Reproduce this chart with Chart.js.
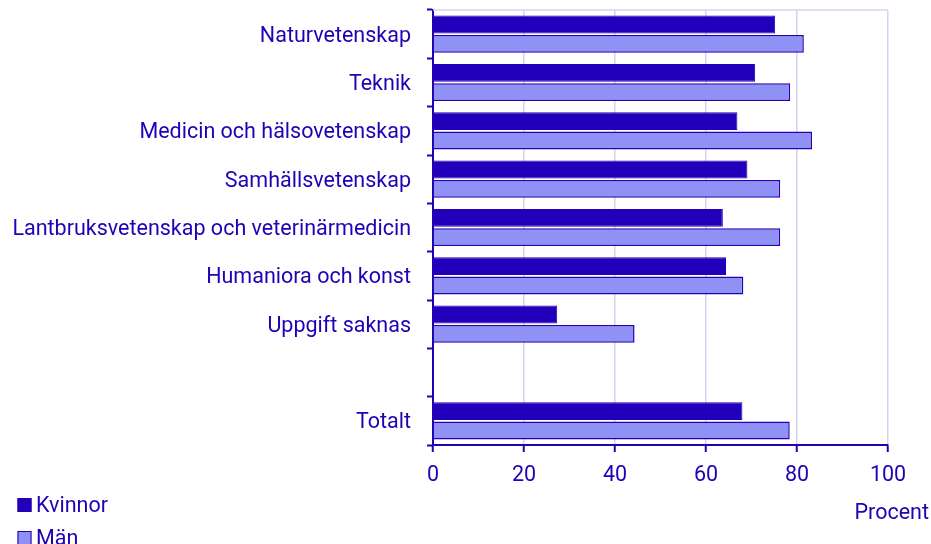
<!DOCTYPE html>
<html>
<head>
<meta charset="utf-8">
<script src="https://cdn.jsdelivr.net/npm/chart.js@4"></script>
<style>
  html, body { margin: 0; padding: 0; background: #fff; }
  #wrap { width: 931px; height: 544px; position: relative; }
</style>
</head>
<body>
<div id="wrap"><canvas id="eduChart"></canvas></div>
<script>
// Andel (procent) per utbildningsområde, kvinnor och män
const categories = [
  "Naturvetenskap",
  "Teknik",
  "Medicin och hälsovetenskap",
  "Samhällsvetenskap",
  "Lantbruksvetenskap och veterinärmedicin",
  "Humaniora och konst",
  "Uppgift saknas",
  "",
  "Totalt",
];
const kvinnor = [75.2, 70.8, 66.9, 69.1, 63.7, 64.4, 27.3, null, 68.0];
const man = [81.5, 78.5, 83.3, 76.3, 76.3, 68.2, 44.3, null, 78.4];
const xTicks = [0, 20, 40, 60, 80, 100];

const ink = "#2200b4";
const gridCol = "#d4d4ee";
const fontFam = "Roboto, 'Noto Sans', sans-serif";
const fontSize = 21.5;

// legend + axis unit drawn on the canvas
const extras = {
  id: "extras",
  afterDraw(chart) {
    const { ctx, chartArea } = chart;
    ctx.save();
    // top frame line
    ctx.strokeStyle = gridCol;
    ctx.lineWidth = 1.5;
    ctx.beginPath();
    ctx.moveTo(chartArea.left, chartArea.top);
    ctx.lineTo(chartArea.right, chartArea.top);
    ctx.stroke();

    ctx.font = fontSize + "px " + fontFam;
    ctx.fillStyle = ink;
    ctx.textBaseline = "middle";
    ctx.textAlign = "right";
    ctx.fillText("Procent", 929, 514);

    ctx.textAlign = "left";
    chart.data.datasets.forEach((ds, i) => {
      const y = 505 + i * 33;
      ctx.fillStyle = ds.backgroundColor;
      ctx.fillRect(17.5, y - 7, 14, 14);
      ctx.strokeStyle = ink;
      ctx.lineWidth = 1;
      ctx.strokeRect(18, y - 6.5, 13, 13);
      ctx.fillStyle = ink;
      ctx.fillText(ds.label, 36, y + 2);
    });
    ctx.restore();
  },
};

new Chart(document.getElementById("eduChart"), {
  type: "bar",
  data: {
    labels: categories,
    datasets: [
      {
        label: "Kvinnor",
        data: kvinnor,
        backgroundColor: "#2200bb",
        borderColor: "#2200bb",
        borderWidth: 1,
      },
      {
        label: "Män",
        data: man,
        backgroundColor: "#8f91f5",
        borderColor: ink,
        borderWidth: 1.5,
      },
    ],
  },
  options: {
    indexAxis: "y",
    responsive: true,
    maintainAspectRatio: false,
    animation: false,
    categoryPercentage: 0.8,
    barPercentage: 0.92,
    layout: { padding: { top: 10, right: 43, left: 8, bottom: 0 } },
    plugins: {
      legend: { display: false },
      tooltip: { enabled: false },
    },
    scales: {
      x: {
        min: 0,
        max: 100,
        afterBuildTicks: (s) => { s.ticks = xTicks.map((v) => ({ value: v })); },
        afterFit: (s) => { s.height = 99; s.paddingLeft = 0; s.paddingRight = 0; },
        grid: { color: gridCol, lineWidth: 1.5, tickLength: 7, tickColor: ink, tickWidth: 2 },
        border: { color: ink, width: 2 },
        ticks: { color: ink, padding: 11, font: { family: fontFam, size: fontSize } },
      },
      y: {
        afterFit: (s) => { s.width = 425; s.paddingTop = 0; s.paddingBottom = 0; },
        grid: { drawOnChartArea: false, offset: true, tickLength: 6, tickColor: ink, tickWidth: 2 },
        border: { color: ink, width: 2 },
        ticks: { color: ink, padding: 16, labelOffset: 2, font: { family: fontFam, size: fontSize } },
      },
    },
  },
  plugins: [extras],
});
</script>
</body>
</html>
